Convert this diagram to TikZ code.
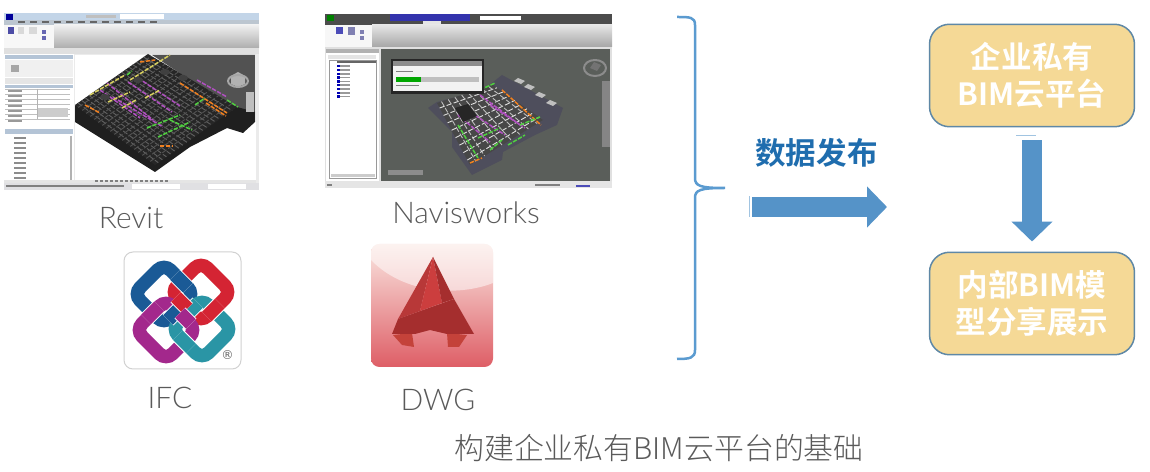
\documentclass[tikz,border=0pt]{standalone}
\usepackage{fontspec}
\usepackage{tikz}
\usetikzlibrary{arrows.meta, positioning, calc}
\newfontfamily\cjkbold{Noto Sans CJK SC Bold}
\newfontfamily\cjklight{Noto Sans CJK SC Light}
\newfontfamily\latinlight{Lato Light}
\definecolor{boxfill}{HTML}{F5D996}
\definecolor{boxline}{HTML}{5F88A6}
\definecolor{arrowblue}{HTML}{5593C8}
\definecolor{bracelabel}{HTML}{1F6DAE}
\definecolor{bracecolor}{HTML}{5B9BD0}
\definecolor{captiongray}{HTML}{5A5A5A}
\definecolor{ifcblue}{HTML}{1A5A96}
\definecolor{ifcred}{HTML}{D42433}
\definecolor{ifcpurple}{HTML}{A3288C}
\definecolor{ifcteal}{HTML}{2A95A5}
\definecolor{revittitle}{HTML}{C3D5E8}
\definecolor{revittabs}{HTML}{BCC6D0}
\definecolor{paneltitle}{HTML}{B4C4D6}
\definecolor{navisgray}{HTML}{5A5E5A}
\definecolor{navisplate}{HTML}{4E4E5C}
\definecolor{pipepink}{HTML}{B050C0}
\definecolor{pipegreen}{HTML}{50D040}
\definecolor{pipeorange}{HTML}{F08020}
\definecolor{pipeyellow}{HTML}{D8D060}
\definecolor{dwgtop}{HTML}{FAE6E1}
\definecolor{dwgmid}{HTML}{F0AEAE}
\definecolor{dwgbottom}{HTML}{DE5E66}
\definecolor{dwgdark}{HTML}{A52E2E}
\definecolor{dwgface}{HTML}{B83838}
\definecolor{dwgbright}{HTML}{CC3E3E}
\definecolor{dwgleg}{HTML}{C4423A}

\begin{document}
\begin{tikzpicture}[x=0.02cm, y=-0.02cm,
    platformbox/.style={rectangle, rounded corners=0.4cm, draw=boxline, fill=boxfill, line width=0.03cm, minimum width=4.1cm, minimum height=2.05cm, align=center, text=white, font=\cjkbold\fontsize{17.4}{21}\selectfont},
    toollabel/.style={text=captiongray, font=\latinlight\fontsize{17}{20}\selectfont},
    flowarrow/.style={draw=arrowblue, line width=0.4cm, -{Triangle[length=0.4cm, width=0.8cm]}},
    ifcring/.style={line width=0.27cm, rounded corners=0.18cm},
    ifccase/.style={draw=white, line width=0.31cm},
    ifcbar/.style={line width=0.27cm},
    pipeline/.style={line width=0.03cm, dash pattern=on 2.5pt off 0.8pt},
    thinpipe/.style={line width=0.018cm, dash pattern=on 3pt off 1.2pt}]
    \useasboundingbox (0,0) rectangle (1150,472);
    \fill[white] (0,0) rectangle (1150,472);

    % Revit window
    \fill[black!8] (4,13) rectangle (259,190);
    \fill[revittitle] (4,13) rectangle (259,20);
    \fill[white] (120,14) rectangle (164,19);
    \fill[black!25] (86,15) rectangle (116,18);
    \fill[revittabs] (4,20) rectangle (259,25);
    \foreach \i in {18,30,...,150} {
        \fill[black!60] (\i,21.5) rectangle (\i+7,23.5);
    }
    \fill[blue!60!black] (6,14) rectangle (13,20);
    \shade[top color=black!6, bottom color=black!32] (54,25) rectangle (259,48);
    \fill[black!3] (4,25) rectangle (54,48);
    \fill[blue!50!black!70] (8,27) rectangle (14,34);
    \fill[black!15] (18,27) rectangle (24,34);
    \fill[black!15] (29,27) rectangle (37,34);
    \fill[blue!50!black!60] (42,30) rectangle (46,34);
    \fill[blue!50!black!60] (42,36) rectangle (46,40);
    \fill[black!12] (4,48) rectangle (259,54);
    % Revit side panels
    \fill[white] (4,54) rectangle (74,183);
    \fill[paneltitle] (5,55) rectangle (73,59);
    \fill[black!6] (5,60) rectangle (73,77);
    \fill[black!35] (11,65) rectangle (19,72);
    \fill[black!10] (5,78) rectangle (73,84);
    \fill[paneltitle] (5,85) rectangle (73,88);
    \foreach \i in {89,94,...,119} {
        \draw[black!25, line width=0.01cm] (5,\i) -- (70,\i);
        \fill[black!40] (8,\i+1.5) rectangle (22,\i+3);
    }
    \fill[black!20] (38,108) rectangle (68,117);
    \draw[black!30, line width=0.01cm] (37,89) -- (37,119);
    \fill[paneltitle] (5,129) rectangle (73,134);
    \foreach \i in {137,142,...,182} {
        \fill[black!45] (14,\i) rectangle (26,\i+1.6);
    }
    \draw[black!30, line width=0.03cm] (71,136) -- (71,182);
    % Revit viewport
    \fill[white] (75,55) rectangle (256,180);
    \fill[black!68] (152,55) -- (255,55) -- (255,112) -- (240,112) -- cycle;
    \fill[black!88] (75,105) -- (75,122) -- (155,172) -- (190,147) -- (227,128) -- (243,133) -- (255,122) -- (255,112) -- (237,107) -- (155,150) -- cycle;
    \coordinate (revA) at (75,105);
    \coordinate (revB) at (148,54);
    \coordinate (revC) at (237,107);
    \coordinate (revD) at (155,165);
    \fill[black!85] (revA) -- (revB) -- (revC) -- (revD) -- cycle;
    \foreach \t in {0.04,0.09,...,0.96} {
        \draw[thinpipe, black!62] ($(revA)!\t!(revB)$) -- ($(revD)!\t!(revC)$);
        \draw[thinpipe, black!68] ($(revA)!\t!(revD)$) -- ($(revB)!\t!(revC)$);
    }
    \foreach \xa/\ya/\xb/\yb/\col in {
        107/83/153/120/pipepink, 113/97/163/127/pipepink, 128/82/172/112/pipepink, 197/80/227/97/pipepink, 138/78/180/106/pipepink, 100/90/140/118/pipepink,
        180/83/227/113/pipeorange, 140/62/155/60/pipeorange, 85/105/100/113/pipeorange, 160/146/172/146/pipeorange, 206/103/226/116/pipeorange,
        147/128/180/115/pipegreen, 170/120/192/130/pipegreen, 227/100/238/107/pipegreen, 127/75/132/71/pipegreen, 158/137/190/122/pipegreen, 195/105/205/98/pipegreen,
        130/80/170/55/pipeyellow, 90/95/125/75/pipeyellow, 108/102/130/92/pipeyellow, 145/98/160/90/pipeyellow, 122/108/136/100/pipeyellow} {
        \draw[pipeline, \col] (\xa,\ya) -- (\xb,\yb);
    }
    \foreach \xa/\ya in {105/97, 138/80, 165/72, 183/78} {
        \fill[black!75] (\xa,\ya) ellipse (5 and 3);
    }
    \fill[black!30] (238,72) -- (245,76) -- (245,84) -- (238,87) -- (231,84) -- (231,76) -- cycle;
    \draw[black!35, line width=0.04cm] (238,81) ellipse (10 and 6);
    \fill[black!25] (246,92) rectangle (254,112);
    % Revit status bar
    \fill[black!10] (4,180) rectangle (256,183);
    \foreach \i in {95,100,...,165} {
        \fill[black!50] (\i,180.5) rectangle (\i+3,182.5);
    }
    \fill[blue!10!black!12] (4,183) rectangle (259,190);
    \fill[black!50] (6,185.5) rectangle (124,187.5);
    \fill[white] (132,184) rectangle (180,189);
    \fill[white] (208,184) rectangle (246,189);

    % Navisworks window
    \fill[black!12] (325,14) rectangle (612,188);
    \fill[black!70] (325,14) rectangle (612,21);
    \fill[blue!60!black!80] (390,14) rectangle (470,21);
    \fill[white] (480,16) rectangle (521,20);
    \fill[green!50!black] (327,15) rectangle (334,24);
    \fill[black!70] (325,21) rectangle (612,25);
    \fill[black!10] (423,21) rectangle (441,25);
    \shade[top color=black!10, bottom color=black!35] (372,25) rectangle (612,47);
    \fill[black!3] (325,25) rectangle (372,47);
    \fill[blue!60!black!70] (336,27) rectangle (343,34);
    \fill[blue!40!black!50] (348,27) rectangle (355,35);
    \fill[blue!40!black!50] (360,30) rectangle (364,34);
    \fill[blue!40!black!50] (360,36) rectangle (364,40);
    % Navisworks side panel
    \fill[white] (326,49) rectangle (379,181);
    \fill[black!30] (326,49) rectangle (379,53);
    \fill[black!10] (328,55) rectangle (376,59);
    \draw[black!40, line width=0.01cm] (329,60) rectangle (376,178);
    \fill[black!60] (337,61) rectangle (376,63.5);
    \foreach \i in {65,68.8,...,96} {
        \fill[blue!70!black] (337,\i) rectangle (339.5,\i+2.4);
        \fill[black!40] (340,\i+0.4) rectangle (350,\i+2);
    }
    \fill[black!20] (331,174) rectangle (375,177);
    % Navisworks viewport
    \fill[navisgray] (381,49) rectangle (610,181);
    \fill[navisplate] (502,75) -- (563,108) -- (557,125) -- (535,135) -- (503,152) -- (502,160) -- (472,175) -- (452,147) -- (452,132) -- (428,108) -- (437,102) -- (483,90) -- cycle;
    \coordinate (navA) at (437,103);
    \coordinate (navB) at (493,85);
    \coordinate (navC) at (543,120);
    \coordinate (navD) at (470,165);
    \fill[black!72] (navA) -- (navB) -- (navC) -- (navD) -- cycle;
    \foreach \t in {0.08,0.2,...,0.95} {
        \draw[thinpipe, black!25] ($(navA)!\t!(navB)$) -- ($(navD)!\t!(navC)$);
        \draw[thinpipe, black!12] ($(navA)!\t!(navD)$) -- ($(navB)!\t!(navC)$);
    }
    \foreach \xa/\ya/\xb/\yb/\col in {
        480/95/520/125/pipepink, 470/112/505/135/pipepink, 458/115/490/142/pipepink, 490/105/525/128/pipepink,
        502/90/541/125/pipeorange, 470/163/482/158/pipeorange,
        458/125/478/158/pipegreen, 478/138/500/128/pipegreen, 520/125/540/117/pipegreen, 508/145/525/135/pipegreen, 480/90/495/83/pipegreen, 490/150/502/140/pipegreen} {
        \draw[pipeline, \col] (\xa,\ya) -- (\xb,\yb);
    }
    \fill[black!85] (455,108) -- (468,104) -- (477,116) -- (463,122) -- cycle;
    \foreach \xa/\ya in {518/78, 528/84, 539/92, 550/100} {
        \fill[black!25] (\xa,\ya) -- (\xa+7,\ya+3) -- (\xa+3,\ya+6) -- (\xa-4,\ya+3) -- cycle;
    }
    % Navisworks progress dialog
    \fill[black!85] (391,59) rectangle (484,94);
    \fill[black!45] (393,61) rectangle (482,66);
    \fill[black!5] (393,66) rectangle (482,91);
    \fill[black!25] (396,77) rectangle (479,82);
    \fill[green!65!black] (396,77) rectangle (421,82);
    \fill[black!50] (396,71) rectangle (413,72.5);
    \fill[black!50] (396,85) rectangle (419,86.5);
    % Navisworks view cube and status bar
    \fill[black!55] (594,62) -- (601,65) -- (597,71) -- (590,68) -- cycle;
    \draw[black!45, line width=0.04cm] (595,68) ellipse (11 and 8);
    \fill[black!48] (602,81) rectangle (610,147);
    \fill[black!45] (388,170) rectangle (423,175);
    \fill[black!10] (325,181) rectangle (612,188);
    \fill[black!50] (327,184) rectangle (332,186);
    \fill[black!50] (535,184) rectangle (560,186);
    \fill[blue!60!black!70] (576,185) rectangle (590,187);

    % IFC logo
    \draw[black!18, fill=white, rounded corners=0.18cm, line width=0.02cm] (124,252) rectangle (241,369);
    \draw[ifcring, ifcblue] (164,263.7) -- (194.3,294) -- (164,324.3) -- (133.7,294) -- cycle;
    \draw[ifcring, ifcred] (201,261.7) -- (231.3,292) -- (201,322.3) -- (170.7,292) -- cycle;
    \draw[ifcring, ifcpurple] (166,299.7) -- (196.3,330) -- (166,360.3) -- (135.7,330) -- cycle;
    \draw[ifcring, ifcteal] (202,298.7) -- (232.3,329) -- (202,359.3) -- (171.7,329) -- cycle;
    % over and under at the crossings
    \foreach \xa/\ya/\xb/\yb/\col in {
        175/275/188/288/ifcblue, 206.8/316.5/219.8/303.5/ifcred, 178/335.3/191/348.3/ifcteal, 159/306.5/146/319.5/ifcpurple,
        168/320/180/308/ifcblue, 198/303/187/314/ifcteal, 176/297/187.5/308.5/ifcred, 191/324/180/313/ifcpurple} {
        \draw[ifccase] (\xa,\ya) -- (\xb,\yb);
        \draw[ifcbar, \col] (\xa,\ya) -- (\xb,\yb);
    }
    \node[inner sep=0pt, text=black!60, font=\fontspec{DejaVu Sans}\fontsize{7}{7}\selectfont] (ifcmark) at (227.5,355.5) {®};

    % DWG icon
    \begin{scope}
        \clip[rounded corners=0.17cm] (371,244) rectangle (493,367);
        \shade[top color=dwgtop, middle color=dwgmid, bottom color=dwgbottom] (371,244) rectangle (493,367);
        \fill[white, opacity=0.5] (371,244) -- (493,244) -- (493,283) .. controls (460,296) and (405,295) .. (371,260) -- cycle;
    \end{scope}
    \fill[dwgleg] (393,335) -- (412,333) -- (414,347) -- (402,345) -- cycle;
    \fill[dwgleg] (447,333) -- (467,335) -- (459,347) -- (448,347) -- cycle;
    \fill[dwgface] (433,257) -- (398,319) -- (420,311) -- cycle;
    \fill[dwgbright] (433,257) -- (420,311) -- (442,303) -- cycle;
    \fill[dwgdark] (433,257) -- (442,303) -- (454,299) -- cycle;
    \shade[left color=dwgdark, middle color=dwgface, right color=dwgdark] (398,319) -- (454,299) -- (474,334) -- (447,334) -- (430,330) -- (415,334) -- (392,334) -- cycle;

    % labels under the pictures
    \node[toollabel] (revitlabel) at (131,218) {Revit};
    \node[toollabel] (naviswlabel) at (466,213) {Navisworks};
    \node[toollabel] (ifclabel) at (170,398) {IFC};
    \node[toollabel] (dwglabel) at (438,400) {DWG};
    \node[text=captiongray, font=\cjklight\fontsize{17}{21}\selectfont] (captionlabel) at (659,448) {构建企业私有BIM云平台的基础};

    % brace
    \draw[bracecolor, line width=0.05cm] (677,17) .. controls (690,17) and (695,17) .. (695,25) -- (695,178) .. controls (695,186) and (700,188) .. (725,188) .. controls (700,188) and (695,190) .. (695,198) -- (695,350) .. controls (695,358) and (690,359) .. (677,359);

    % publish arrow
    \node[text=bracelabel, font=\cjkbold\fontsize{17.4}{21}\selectfont] (publishlabel) at (816.5,153) {数据发布};
    \coordinate (pubstart) at (752,207);
    \coordinate (pubend) at (887,207);
    \draw[flowarrow] (pubstart) -- (pubend);
    \fill[arrowblue!55] (748.5,196) rectangle (749.5,217);

    % platform boxes
    \node[platformbox] (cloudbox) at (1032,75.5) {企业私有\\BIM云平台};
    \node[platformbox] (modelbox) at (1032,303.5) {内部BIM模\\型分享展示};
    \draw[flowarrow, shorten <=0.26cm, shorten >=0.2cm] (cloudbox) -- (modelbox);
    \fill[arrowblue!55] (1016,135.5) rectangle (1036,136.5);
\end{tikzpicture}
\end{document}
